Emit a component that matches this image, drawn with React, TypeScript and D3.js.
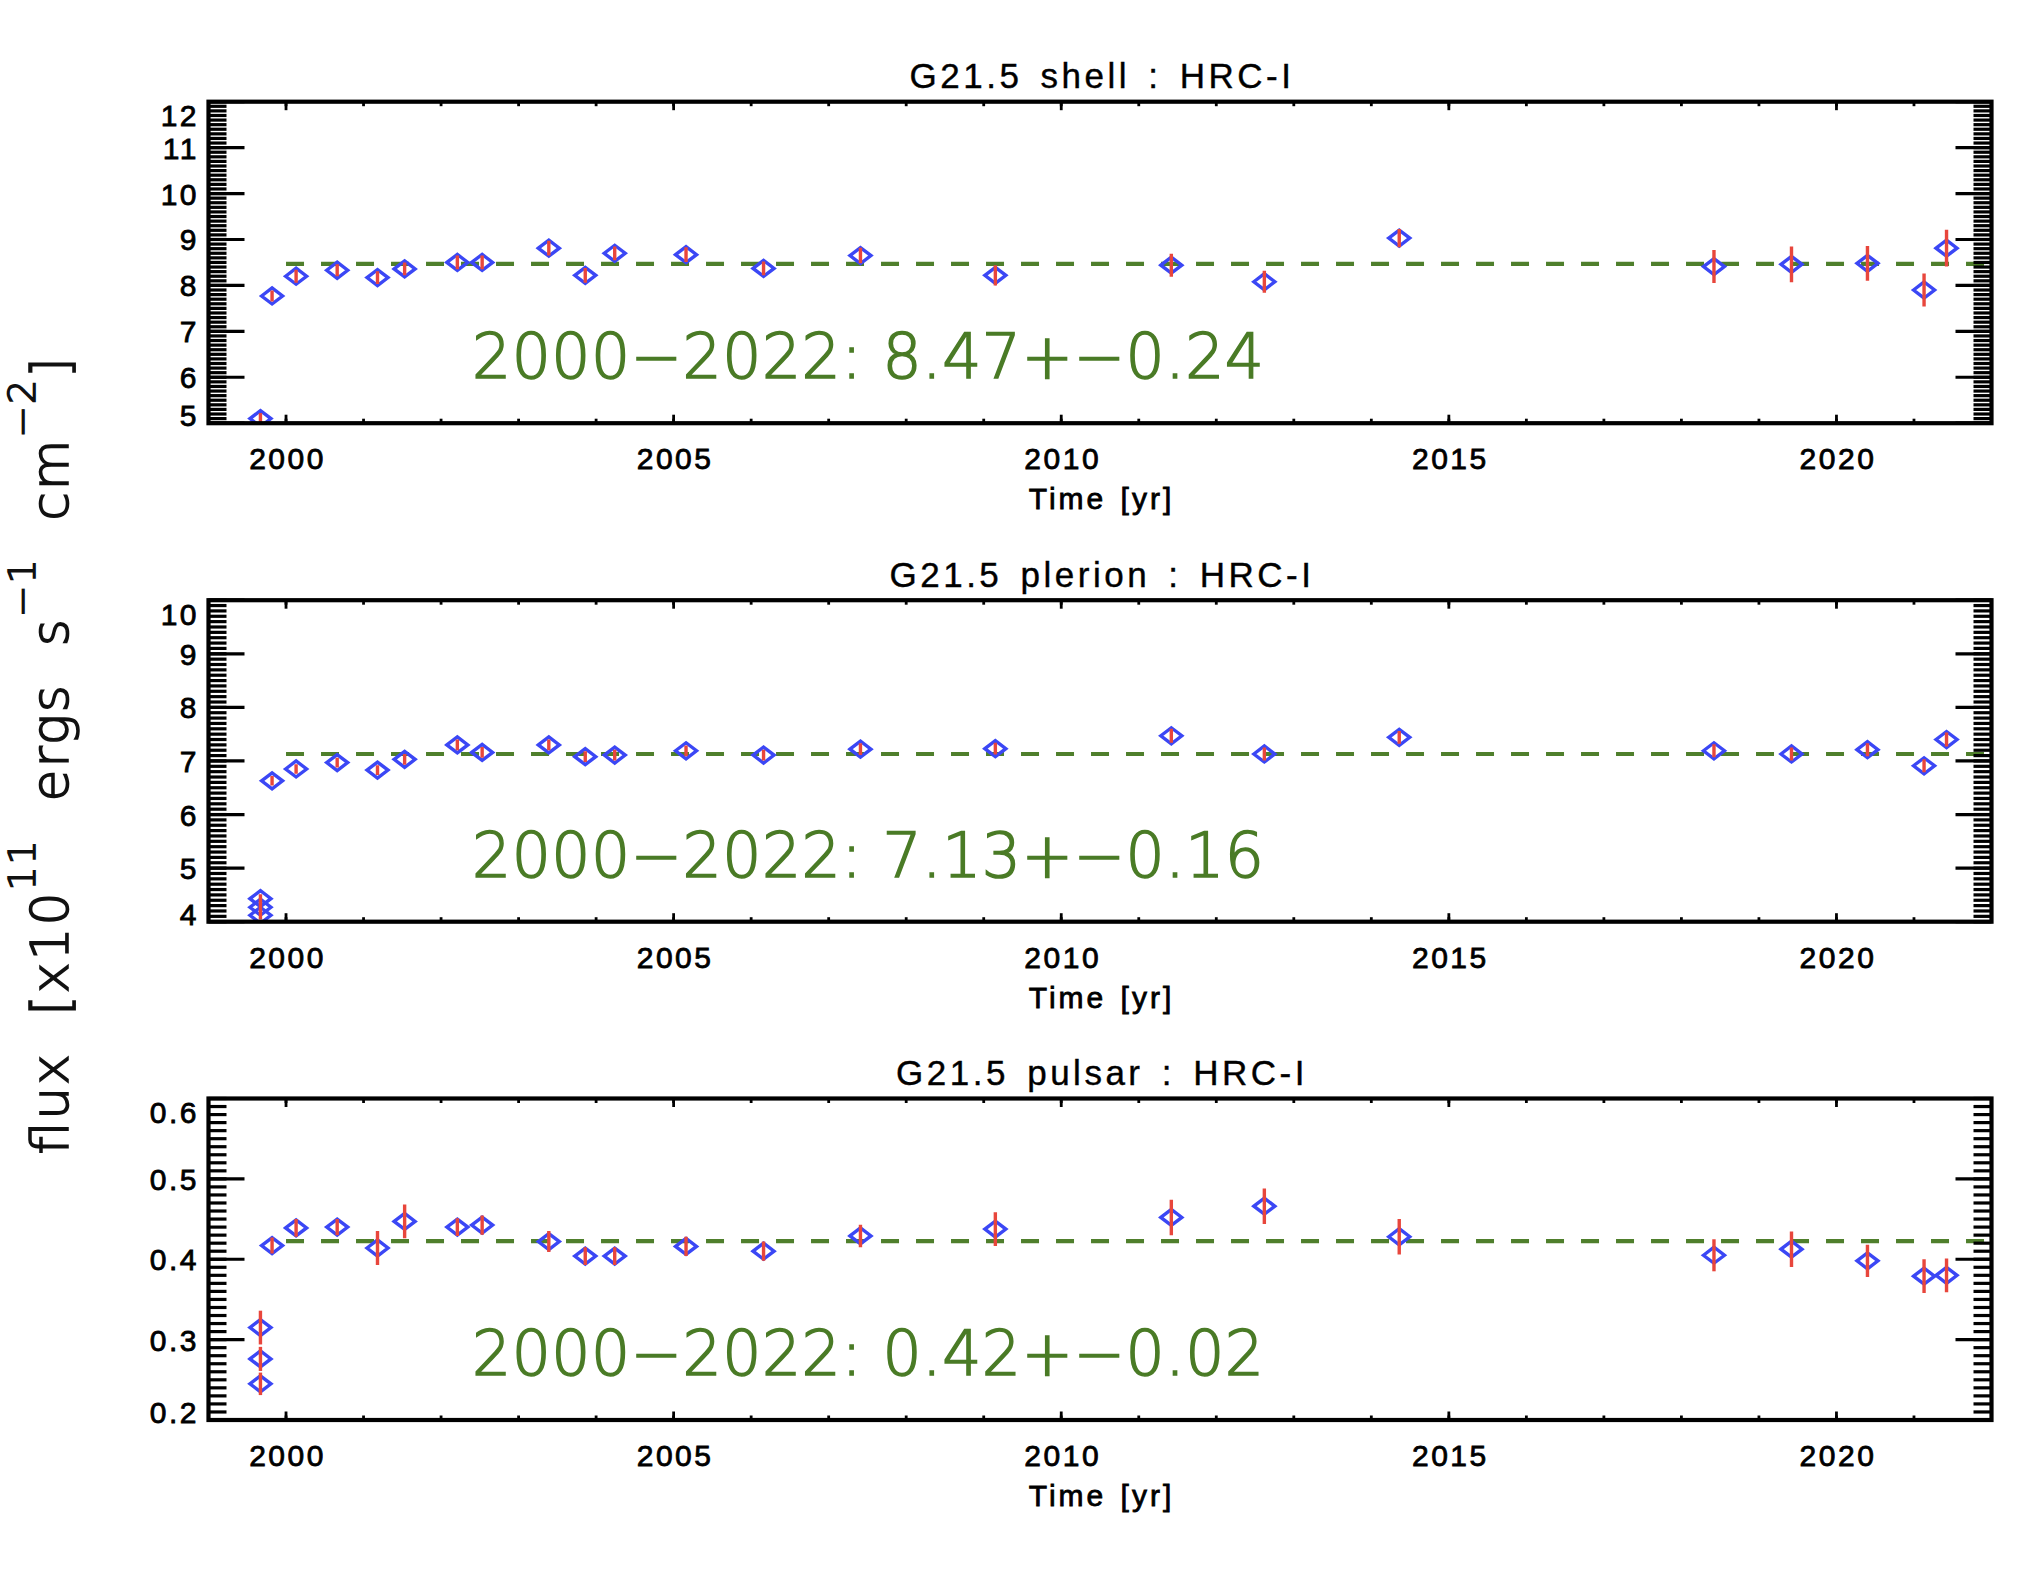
import React from 'react';
import * as d3 from 'd3';

const W = 2040;
const H = 1572;

// ---------- data ----------
const firstEpoch = 1999.67;
const epochTimes = [1999.82, 2000.13, 2000.66, 2001.18, 2001.53, 2002.21, 2002.53, 2003.39, 2003.86, 2004.24, 2005.16, 2006.16, 2007.41, 2009.15, 2011.42, 2012.62, 2014.36, 2018.42, 2019.42, 2020.40, 2021.13, 2021.42];

const shellTimes = [firstEpoch, ...epochTimes];
const shellFlux = [5.1, 7.77, 8.20, 8.33, 8.17, 8.36, 8.50, 8.50, 8.81, 8.22, 8.70, 8.67, 8.37, 8.65, 8.22, 8.44, 8.08, 9.03, 8.41, 8.46, 8.48, 7.90, 8.81];
const shellErr = [0.12, 0.12, 0.14, 0.13, 0.14, 0.14, 0.15, 0.15, 0.16, 0.16, 0.15, 0.16, 0.15, 0.17, 0.22, 0.25, 0.24, 0.20, 0.36, 0.39, 0.38, 0.36, 0.40];

const plerionTimes = [firstEpoch, firstEpoch, firstEpoch, ...epochTimes];
const plerionFlux = [4.43, 4.27, 4.12, 6.63, 6.85, 6.97, 6.83, 7.03, 7.30, 7.16, 7.30, 7.08, 7.11, 7.19, 7.11, 7.22, 7.23, 7.47, 7.13, 7.44, 7.19, 7.13, 7.21, 6.91, 7.40];
const plerionErr = [0.08, 0.08, 0.08, 0.09, 0.09, 0.09, 0.09, 0.10, 0.10, 0.10, 0.10, 0.10, 0.10, 0.10, 0.10, 0.11, 0.11, 0.13, 0.12, 0.12, 0.12, 0.12, 0.12, 0.12, 0.13];

const pulsarTimes = [firstEpoch, firstEpoch, firstEpoch, ...epochTimes];
const pulsarFlux = [0.315, 0.276, 0.245, 0.417, 0.439, 0.440, 0.414, 0.447, 0.440, 0.4425, 0.422, 0.404, 0.404, 0.416, 0.410, 0.429, 0.4375, 0.452, 0.466, 0.428, 0.405, 0.4125, 0.398, 0.379, 0.380];
const pulsarErr = [0.021, 0.015, 0.014, 0.010, 0.011, 0.010, 0.021, 0.021, 0.011, 0.012, 0.013, 0.011, 0.011, 0.012, 0.012, 0.014, 0.021, 0.022, 0.022, 0.022, 0.020, 0.022, 0.020, 0.021, 0.021];

const panelTitles = ['G21.5 shell : HRC-I', 'G21.5 plerion : HRC-I', 'G21.5 pulsar : HRC-I'];
const panelMeans = [8.47, 7.13, 0.4225];
const panelStd = [0.24, 0.16, 0.02];
const statRange = '2000\u22122022';
const yDomains: [number, number][] = [[5, 12], [4, 10], [0.2, 0.6]];
const yMajorSteps = [1, 1, 0.1];
const yMinorSteps = [0.1, 0.1, 0.01];
const yLabelFormats = ['d', 'd', '.1f'];

const xDomain: [number, number] = [1999, 2022];
const xMajorTicks = [2000, 2005, 2010, 2015, 2020];
const xMinorTicks = d3.range(1999, 2023, 1);
const meanStart = 2000;
const meanEnd = 2022;
const xTitle = 'Time [yr]';

// ---------- layout ----------
const panelTops = [101.7, 600.2, 1098.5];
const PH = 321.5;
const xScale = d3.scaleLinear().domain(xDomain).range([208.5, 1991.5]);

const BLUE = '#3b47f5';
const RED = '#e8463c';
const GREEN_TEXT = '#4a7b26';
const GREEN_LINE = '#4f7f2c';
const AXIS_FONT = '"Liberation Sans", Arial, Helvetica, sans-serif';
const THIN_FONT = '"DejaVu Sans", sans-serif';

type PanelData = {
  idx: number;
  times: number[];
  flux: number[];
  err: number[];
};

const panels: PanelData[] = [
  { idx: 0, times: shellTimes, flux: shellFlux, err: shellErr },
  { idx: 1, times: plerionTimes, flux: plerionFlux, err: plerionErr },
  { idx: 2, times: pulsarTimes, flux: pulsarFlux, err: pulsarErr },
];

function steps(lo: number, hi: number, step: number) {
  const n = Math.round((hi - lo) / step);
  return d3.range(n + 1).map((i) => lo + i * step);
}

function Panel({ p }: { p: PanelData }) {
  const i = p.idx;
  const top = panelTops[i];
  const bottom = top + PH;
  const dom = yDomains[i];
  const y = d3.scaleLinear().domain(dom).range([bottom, top]);
  const [L, R] = xScale.range();
  const majors = steps(dom[0], dom[1], yMajorSteps[i]);
  const minors = steps(dom[0], dom[1], yMinorSteps[i]);
  const fmt = d3.format(yLabelFormats[i]);
  const clipId = `clip-${i}`;
  const hw = 10.5;
  const hh = 8;
  const statText = `${statRange}: ${d3.format('.2f')(panelMeans[i])}+\u2212${d3.format('.2f')(panelStd[i])}`;
  const cx = (L + R) / 2;

  return (
    <g>
      <defs>
        <clipPath id={clipId}>
          <rect x={L} y={top} width={R - L} height={bottom - top} />
        </clipPath>
      </defs>

      {/* mean dashed line */}
      <line
        x1={xScale(meanStart)}
        x2={xScale(meanEnd)}
        y1={y(panelMeans[i])}
        y2={y(panelMeans[i])}
        stroke={GREEN_LINE}
        strokeWidth={4.2}
        strokeDasharray="18 17"
      />

      {/* markers */}
      <g clipPath={`url(#${clipId})`}>
        {p.times.map((t, k) => {
          const px = xScale(t);
          const py = y(p.flux[k]);
          return (
            <path
              key={`d${k}`}
              d={`M${px - hw},${py}L${px},${py - hh}L${px + hw},${py}L${px},${py + hh}Z`}
              fill="none"
              stroke={BLUE}
              strokeWidth={3.4}
            />
          );
        })}
        {p.times.map((t, k) => {
          const px = xScale(t);
          return (
            <line
              key={`e${k}`}
              x1={px}
              x2={px}
              y1={y(p.flux[k] - p.err[k])}
              y2={y(p.flux[k] + p.err[k])}
              stroke={RED}
              strokeWidth={3.4}
            />
          );
        })}
      </g>

      {/* y ticks */}
      {minors.map((v, k) => (
        <g key={`ym${k}`}>
          <line x1={L} x2={L + 18} y1={y(v)} y2={y(v)} stroke="#000" strokeWidth={3.2} />
          <line x1={R - 18} x2={R} y1={y(v)} y2={y(v)} stroke="#000" strokeWidth={3.2} />
        </g>
      ))}
      {majors.map((v, k) => (
        <g key={`yM${k}`}>
          <line x1={L} x2={L + 36} y1={y(v)} y2={y(v)} stroke="#000" strokeWidth={3.2} />
          <line x1={R - 36} x2={R} y1={y(v)} y2={y(v)} stroke="#000" strokeWidth={3.2} />
        </g>
      ))}
      {/* x ticks */}
      {xMinorTicks.map((t, k) => (
        <g key={`xm${k}`}>
          <line x1={xScale(t)} x2={xScale(t)} y1={top} y2={top + 4.5} stroke="#000" strokeWidth={2.8} />
          <line x1={xScale(t)} x2={xScale(t)} y1={bottom} y2={bottom - 4.5} stroke="#000" strokeWidth={2.8} />
        </g>
      ))}
      {xMajorTicks.map((t, k) => (
        <g key={`xM${k}`}>
          <line x1={xScale(t)} x2={xScale(t)} y1={top} y2={top + 8.5} stroke="#000" strokeWidth={2.8} />
          <line x1={xScale(t)} x2={xScale(t)} y1={bottom} y2={bottom - 8.5} stroke="#000" strokeWidth={2.8} />
        </g>
      ))}

      {/* frame */}
      <rect x={L} y={top} width={R - L} height={bottom - top} fill="none" stroke="#000" strokeWidth={4.2} />

      {/* y tick labels */}
      {majors.map((v, k) => {
        const cy = Math.min(Math.max(y(v), top + 13.5), bottom - 8);
        return (
          <text
            key={`yl${k}`}
            x={199}
            y={cy + 11}
            textAnchor="end"
            fontFamily={AXIS_FONT}
            fontSize={30}
            fill="#000"
            stroke="#000"
            strokeWidth={0.8}
            style={{ letterSpacing: '2.5px' }}
          >
            {fmt(v)}
          </text>
        );
      })}

      {/* x tick labels */}
      {xMajorTicks.map((t, k) => (
        <text
          key={`xl${k}`}
          x={xScale(t) + 1.5}
          y={bottom + 46}
          textAnchor="middle"
          fontFamily={AXIS_FONT}
          fontSize={30}
          fill="#000"
          stroke="#000"
          strokeWidth={0.8}
          style={{ letterSpacing: '2.5px' }}
        >
          {t}
        </text>
      ))}

      {/* x title */}
      <text
        x={cx + 1.5}
        y={bottom + 86}
        textAnchor="middle"
        fontFamily={AXIS_FONT}
        fontSize={30}
        fill="#000"
        stroke="#000"
        strokeWidth={0.8}
        style={{ letterSpacing: '3px', wordSpacing: '3px' }}
      >
        {xTitle}
      </text>

      {/* panel title */}
      <text
        x={cx + 2}
        y={top - 13.5}
        textAnchor="middle"
        fontFamily={AXIS_FONT}
        fontSize={35}
        fill="#000"
        stroke="#000"
        strokeWidth={0.4}
        style={{ letterSpacing: '3.5px', wordSpacing: '5px' }}
      >
        {panelTitles[i]}
      </text>

      {/* stat text */}
      <text
        x={472}
        y={top + 276.6}
        fontFamily={THIN_FONT}
        fontWeight={200}
        fontSize={61.5}
        fill={GREEN_TEXT}
        stroke={GREEN_TEXT}
        strokeWidth={1.6}
        textLength={792}
        lengthAdjust="spacing"
      >
        {statText}
      </text>
    </g>
  );
}

export default function App() {
  return (
    <svg
      width={W}
      height={H}
      viewBox={`0 0 ${W} ${H}`}
      style={{ position: 'absolute', left: 0, top: 0, background: '#fff' }}
    >
      <rect x={0} y={0} width={W} height={H} fill="#fff" />
      {panels.map((p) => (
        <Panel key={p.idx} p={p} />
      ))}
      <text
        transform="translate(68,756) rotate(-90)"
        textAnchor="middle"
        fontFamily={THIN_FONT}
        fontWeight={200}
        fontSize={52}
        fill="#111"
        stroke="#111"
        strokeWidth={1.6}
        textLength={797}
        lengthAdjust="spacing"
        style={{ whiteSpace: 'pre' }}
      >
        {'flux  [x10'}
        <tspan dy={-33} fontSize={38}>11</tspan>
        <tspan dy={33}>{'  ergs  s'}</tspan>
        <tspan dy={-33} fontSize={38}>{'\u22121'}</tspan>
        <tspan dy={33}>{'  cm'}</tspan>
        <tspan dy={-33} fontSize={38}>{'\u22122'}</tspan>
        <tspan dy={33}>]</tspan>
      </text>
    </svg>
  );
}
